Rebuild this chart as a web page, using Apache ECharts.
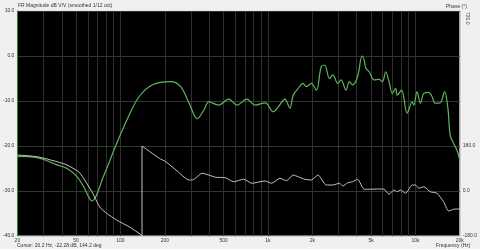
<!DOCTYPE html>
<html>
<head>
<meta charset="utf-8">
<script src="https://cdn.jsdelivr.net/npm/echarts@6/dist/echarts.min.js"></script>
<style>
html,body{margin:0;padding:0;background:#f0f0f0;}
#c{width:480px;height:249px;}
</style>
</head>
<body>
<div id="c"></div>
<script>
// Magnitude (green, dB V/V)
const magFreq = [20, 27.3, 37.2, 43.4, 50.7, 56.2, 64, 76.6, 94, 115, 134, 165, 219, 256, 292, 332, 368, 397, 463, 542, 617, 720, 819, 957, 1087, 1175, 1303, 1409, 1483, 1603, 1731, 1821, 1968, 2128, 2297, 2421, 2615, 2754, 2974, 3133, 3383, 3564, 3751, 4052, 4350, 4500, 4613, 4857, 5248, 5672, 5971, 6286, 6622, 6970, 7340, 7530, 8050, 8791, 9500, 9750, 10260, 10810, 11400, 12310, 12950, 13640, 14730, 15770, 16600, 17200, 18130, 19100, 20000];
const magDb = [-22.3, -22.6, -24.2, -25.0, -26.8, -29.0, -32.2, -26.8, -19.5, -13.0, -9.0, -6.4, -5.7, -6.8, -10.5, -13.9, -12.0, -10.2, -10.9, -9.6, -10.9, -9.6, -10.9, -10.4, -12.4, -11.3, -9.6, -11.6, -8.7, -7.2, -6.1, -6.8, -6.1, -7.6, -2.4, -2.0, -5.0, -4.2, -6.1, -5.3, -7.6, -5.7, -6.4, -4.6, 0.0, -1.0, -2.7, -3.5, -5.3, -5.2, -5.7, -3.5, -5.7, -8.3, -7.2, -8.7, -7.6, -12.7, -10.2, -10.9, -7.9, -10.5, -8.3, -8.1, -9.0, -10.5, -10.4, -7.9, -11.6, -17.6, -19.4, -20.9, -23.1];

// Phase (gray, degrees)
const phFreq = [20, 27.3, 37.2, 43.4, 52, 56.2, 64, 72.6, 80.5, 94, 116, 138.6, 140, 140, 183, 203, 238, 292, 307, 358, 441, 515, 585, 683, 778, 957, 1060, 1206, 1336, 1483, 1603, 1777, 1968, 2183, 2484, 2754, 3055, 3217, 3474, 3751, 4052, 4498, 4985, 5672, 6133, 6622, 7160, 7530, 7925, 8570, 9500, 10000, 10540, 11400, 12620, 14000, 15520, 16780, 18130, 20000];
const phDeg = [144, 137, 117, 104, 77, 51, -3, -65, -89, -116, -145, -176, -180, 180, 131, 117, 84, 44, 44, 71, 55, 53, 37, 47, 31, 40, 31, 51, 41, 64, 57, 47, 44, 64, 24, 24, 31, 20, 33, 37, 47, 7, 7, 8, 7, -13, 4, -3, 4, -9, 24, 24, 11, 17, -3, -9, -43, -80, -73, -72];

// Axis ticks / labels
const xGridValues = [20, 30, 40, 50, 60, 70, 80, 90, 100, 200, 300, 400, 500, 600, 700, 800, 900, 1000, 2000, 3000, 4000, 5000, 6000, 7000, 8000, 9000, 10000, 20000];
const xLabelValues = [20, 50, 100, 200, 500, 1000, 2000, 5000, 10000, 20000];
const xLabelTexts = ['20', '50', '100', '200', '500', '1k', '2k', '5k', '10k', '20k'];
const phaseLabelValues = [-180, 0, 180];

const FONT = 'Liberation Sans';
const chart = echarts.init(document.getElementById('c'));

const magData = magFreq.map((f, i) => [f, magDb[i]]);
const phData = phFreq.map((f, i) => [f, phDeg[i]]);

chart.setOption({
  animation: false,
  backgroundColor: '#f0f0f0',
  grid: {
    left: 17, right: 17, top: 11, bottom: 13,
    show: true, backgroundColor: '#000000', borderColor: '#d8d8d8', borderWidth: 1
  },
  xAxis: {
    type: 'log', logBase: 10, min: 20, max: 20000,
    axisLine: { show: true, onZero: false, lineStyle: { color: '#d0d0d0', width: 1 } },
    axisTick: { show: false, customValues: xGridValues },
    axisLabel: {
      customValues: xLabelValues,
      formatter: v => { const i = xLabelValues.indexOf(Math.round(v)); return i >= 0 ? xLabelTexts[i] : ''; },
      fontFamily: FONT, fontSize: 5, color: '#333', margin: 2,
      showMinLabel: true, showMaxLabel: true, hideOverlap: false
    },
    splitLine: { show: true, lineStyle: { color: '#2f2f2f', width: 1 } },
    minorSplitLine: { show: false }
  },
  yAxis: [
    {
      type: 'value', min: -40, max: 10, interval: 10, position: 'left',
      axisLine: { show: true, onZero: false, lineStyle: { color: '#3f7a3f', width: 1 } },
      axisTick: { show: false },
      axisLabel: { formatter: v => v.toFixed(1), fontFamily: FONT, fontSize: 5, color: '#333', margin: 3 },
      splitLine: { show: true, lineStyle: { color: '#2c3a2c', width: 1 } }
    },
    {
      type: 'value', min: -180, max: 720, interval: 180, position: 'right',
      axisLine: { show: true, onZero: false, lineStyle: { color: '#d0d0d0', width: 1 } },
      axisTick: { show: false },
      axisLabel: {
        formatter: v => phaseLabelValues.indexOf(v) >= 0 ? v.toFixed(1) : '',
        fontFamily: FONT, fontSize: 5, color: '#333', margin: 3
      },
      splitLine: { show: false }
    }
  ],
  graphic: [
    { type: 'text', left: 18, top: 3, style: { text: 'FR Magnitude dB V/V (smoothed 1/12 oct)', font: '5px ' + FONT, fill: '#333' } },
    { type: 'text', left: 446, top: 4, style: { text: 'Phase (°)', font: '5px ' + FONT, fill: '#333' } },
    { type: 'text', left: 465, top: 12, rotation: -Math.PI / 2, style: { text: '720.0', font: '5px ' + FONT, fill: '#333' } },
    { type: 'text', left: 17, top: 243, style: { text: 'Cursor: 20.2 Hz, -22.28 dB, 144.2 deg', font: '5px ' + FONT, fill: '#333' } },
    { type: 'text', left: 436, top: 243, style: { text: 'Frequency (Hz)', font: '5px ' + FONT, fill: '#333' } }
  ],
  series: [
    {
      type: 'line', data: magData, yAxisIndex: 0, showSymbol: false, smooth: 0.35,
      lineStyle: { color: '#5fb55a', width: 1.2 }, z: 3
    },
    {
      type: 'line', data: phData, yAxisIndex: 1, showSymbol: false, smooth: 0.2,
      lineStyle: { color: '#c4c4c4', width: 1 }, z: 4
    }
  ]
});
</script>
</body>
</html>
